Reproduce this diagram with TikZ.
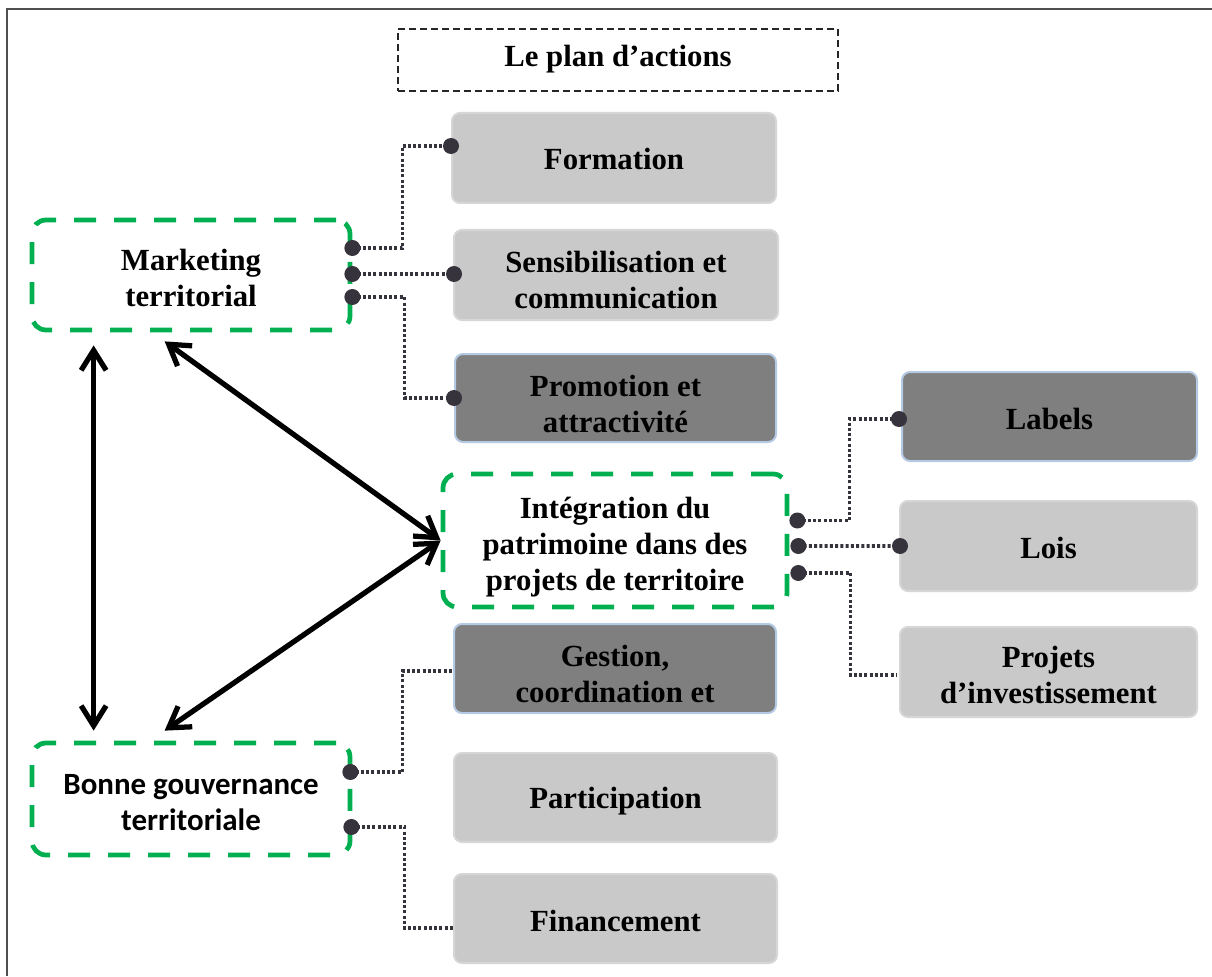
\documentclass[tikz,border=0pt]{standalone}
\usepackage{fontspec}
\setmainfont{Liberation Serif}
\newfontfamily\calibri{Carlito}
\usetikzlibrary{arrows.meta,calc}
\pgfdeclarelayer{back}
\pgfsetlayers{back,main}

\definecolor{boxlight}{HTML}{C9C9C9}
\definecolor{boxlightedge}{HTML}{D6D6D6}
\definecolor{boxdark}{HTML}{7F7F7F}
\definecolor{boxdarkedge}{HTML}{B4C9E4}
\definecolor{pillargreen}{HTML}{00B050}
\definecolor{dotcol}{HTML}{36333D}
\definecolor{framecol}{HTML}{505050}

\begin{document}
\begin{tikzpicture}[x=0.02cm,y=-0.02cm,
  lbl/.style={font=\fontsize{17.5}{20.5}\selectfont\bfseries, align=center, text=black, inner sep=0pt},
  boxwh/.style 2 args={minimum width=#1*0.02cm, minimum height=#2*0.02cm},
  txt/.style 2 args={label={[lbl,yshift=-#1*0.02cm]center:{#2}}},
  boxshape/.style={rectangle, inner sep=0pt},
  lightbox/.style={boxshape, rounded corners=0.16cm, fill=boxlight, draw=boxlightedge, line width=0.04cm},
  darkbox/.style={boxshape, rounded corners=0.16cm, fill=boxdark, draw=boxdarkedge, line width=0.04cm},
  pillar/.style={boxshape, rounded corners=0.28cm, draw=pillargreen, line width=0.095cm, dash pattern=on 0.44cm off 0.36cm},
  titlebox/.style={boxshape, draw=black!85, line width=0.04cm, dash pattern=on 0.14cm off 0.08cm},
  link/.style={draw=dotcol, line width=0.075cm, dash pattern=on 0.06cm off 0.045cm},
  bigarrow/.style={draw=black, line width=0.105cm, {Straight Barb[length=0.4cm,width=0.5cm]}-{Straight Barb[length=0.4cm,width=0.5cm]}},
]
\useasboundingbox (0,0) rectangle (1212,976);
\fill[white] (0,0) rectangle (1212,976);

% outer frame (only its top and left edges fall inside the page)
\draw[framecol, line width=0.05cm] (7,976) -- (7,9) -- (1212,9);

% title
\node[titlebox, boxwh={440}{62}, txt={-1}{Le plan d’actions}] (title) at (618,60) {};

% the three pillars
\node[pillar, boxwh={318}{110}, txt={3}{Marketing\\territorial}] (mkt) at (191,275) {};
\node[pillar, boxwh={344}{133}, txt={7}{Intégration du\\patrimoine dans des\\projets de territoire}] (integ) at (615,540.5) {};
\node[pillar, boxwh={318}{112},
  label={[lbl, font=\calibri\fontsize{17.6}{20.5}\selectfont\bfseries, yshift=-0.07cm]center:{Bonne gouvernance\\territoriale}}] (bonne) at (191,799) {};

% actions
\node[lightbox, boxwh={324}{90}, txt={1}{Formation}] (form) at (614,158) {};
\node[lightbox, boxwh={324}{90}, txt={5}{Sensibilisation et\\communication}] (sens) at (616,275) {};
\node[darkbox, boxwh={321}{88}, txt={6}{Promotion et\\attractivité}] (promo) at (615.5,398) {};
\node[darkbox, boxwh={295}{89}, txt={2}{Labels}] (labels) at (1049.5,416.5) {};
\node[lightbox, boxwh={297}{90}, txt={2}{Lois}] (lois) at (1048.5,546) {};
\node[lightbox, boxwh={297}{90}, txt={3}{Projets\\d’investissement}] (proj) at (1048.5,672) {};
\node[darkbox, boxwh={322}{89}, txt={5}{Gestion,\\coordination et}] (gest) at (615,668.5) {};
\node[lightbox, boxwh={323}{89}, txt={4}{Participation}] (part) at (615.5,797.5) {};
\node[lightbox, boxwh={323}{89}, txt={2}{Financement}] (fin) at (615.5,918.5) {};

% connector end points
\coordinate (m1) at ($(mkt.east)+(0,-27)$);
\coordinate (m2) at ($(mkt.east)+(0,-1)$);
\coordinate (m3) at ($(mkt.east)+(0,22)$);
\coordinate (i1) at ($(integ.east)+(8,-20)$);
\coordinate (i2) at ($(integ.east)+(9,5.5)$);
\coordinate (i3) at ($(integ.east)+(9,32.5)$);
\coordinate (b1) at ($(bonne.east)+(-2,-27)$);
\coordinate (b2) at ($(bonne.east)+(-1,28)$);
\coordinate (tf) at ($(form.west)+(0,-12)$);
\coordinate (ts) at ($(sens.west)+(1,-1)$);
\coordinate (tp) at (promo.west);
\coordinate (tl) at ($(labels.west)+(-2,2.5)$);
\coordinate (tw) at ($(lois.west)+(1,0)$);
\coordinate (tj) at ($(proj.west)+(-2,3)$);
\coordinate (tg) at ($(gest.west)+(-1,2.5)$);
\coordinate (tn) at ($(fin.west)+(1,9.5)$);

% dotted connectors
\draw[link] (m1) -- ++(50,0) |- (tf);
\draw[link] (m2) -- (ts);
\draw[link] (m3) -- ++(52,0) |- (tp);
\draw[link] (i1) -- ++(52,0) |- (tl);
\draw[link] (i2) -- (tw);
\draw[link] (i3) -- ++(52,0) |- (tj);
\draw[link] (b1) -- ++(52,0) |- (tg);
\draw[link] (b2) -- ++(53,0) |- (tn);

% round ends
\foreach \p in {m1,m2,m3,i1,i2,i3,b1,b2,tf,ts,tp,tl,tw}
  \fill[dotcol] (\p) circle[radius=0.16cm];
\begin{pgfonlayer}{back}
  \foreach \p in {tj,tg,tn}
    \fill[dotcol] (\p) circle[radius=0.16cm];
\end{pgfonlayer}

% relations between the pillars
\draw[bigarrow] ($(mkt.south west)+(64,13)$) -- ($(bonne.north west)+(64,-10)$);
\draw[bigarrow] ($(mkt.south west)+(135,9)$) -- (integ.west);
\draw[bigarrow] ($(bonne.north west)+(135,-10)$) -- (integ.west);
\end{tikzpicture}
\end{document}
